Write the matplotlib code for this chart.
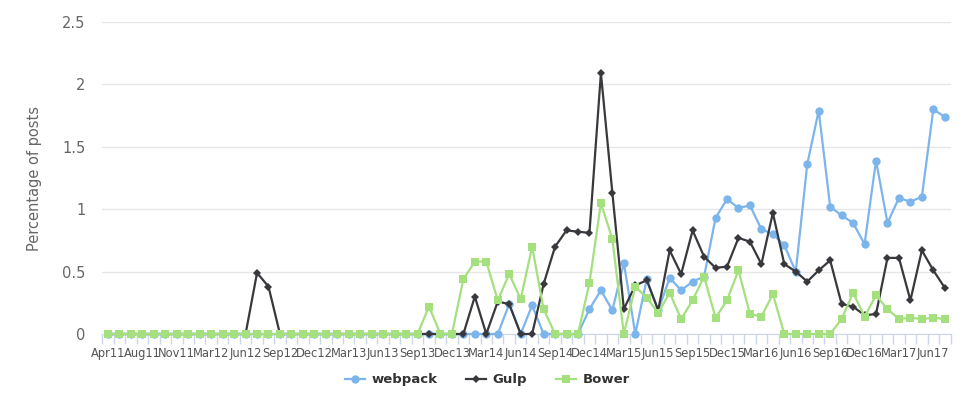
from matplotlib import pyplot as plt
from matplotlib.lines import Line2D
import numpy as np

# tick labels shown every 3rd category
tick_labels = ["Apr11", "Aug11", "Nov11", "Mar12", "Jun12", "Sep12", "Dec12", "Mar13", "Jun13",
               "Sep13", "Dec13", "Mar14", "Jun14", "Sep14", "Dec14", "Mar15", "Jun15", "Sep15",
               "Dec15", "Mar16", "Jun16", "Sep16", "Dec16", "Mar17", "Jun17"]

webpack = [0, 0, 0, 0, 0, 0, 0, 0, 0, 0,
           0, 0, 0, 0, 0, 0, 0, 0, 0, 0,
           0, 0, 0, 0, 0, 0, 0, 0, 0, 0,
           0, 0, 0, 0, 0, 0.24, 0, 0.23, 0, 0,
           0, 0, 0.20, 0.35, 0.19, 0.57, 0, 0.44, 0.19, 0.45,
           0.35, 0.42, 0.46, 0.93, 1.08, 1.01, 1.03, 0.84, 0.80, 0.71,
           0.50, 1.36, 1.79, 1.02, 0.95, 0.89, 0.72, 1.39, 0.89, 1.09,
           1.06, 1.10, 1.80, 1.74]

gulp = [0, 0, 0, 0, 0, 0, 0, 0, 0, 0,
        0, 0, 0, 0.49, 0.38, 0, 0, 0, 0, 0,
        0, 0, 0, 0, 0, 0, 0, 0, 0, 0,
        0, 0, 0.30, 0, 0.26, 0.24, 0, 0, 0.40, 0.70,
        0.83, 0.82, 0.81, 2.09, 1.13, 0.20, 0.39, 0.43, 0.19, 0.67,
        0.48, 0.83, 0.62, 0.53, 0.54, 0.77, 0.74, 0.56, 0.97, 0.56,
        0.50, 0.42, 0.51, 0.59, 0.24, 0.22, 0.15, 0.16, 0.61, 0.61,
        0.27, 0.67, 0.51, 0.37]

bower = [0, 0, 0, 0, 0, 0, 0, 0, 0, 0,
         0, 0, 0, 0, 0, 0, 0, 0, 0, 0,
         0, 0, 0, 0, 0, 0, 0, 0, 0.22, 0,
         0, 0.44, 0.58, 0.58, 0.27, 0.48, 0.28, 0.70, 0.20, 0,
         0, 0, 0.41, 1.05, 0.76, 0, 0.38, 0.29, 0.17, 0.33,
         0.12, 0.27, 0.46, 0.13, 0.27, 0.51, 0.16, 0.14, 0.32, 0,
         0, 0, 0, 0, 0.12, 0.33, 0.14, 0.31, 0.20, 0.12,
         0.13, 0.12, 0.13, 0.12]

x = np.arange(len(webpack))

fig = plt.figure(figsize=(9.65, 3.98), dpi=100)
ax = fig.add_axes([0.106, 0.1608, 0.879, 0.7839])

series = [("webpack", webpack, "#7cb5ec", "o", 6),
          ("Gulp", gulp, "#38383d", "D", 4.4),
          ("Bower", bower, "#a5e07e", "s", 6)]

handles = []
for name, vals, col, mk, ms in series:
    ax.plot(x, vals, color=col, lw=1.6, marker=mk, markersize=ms,
            markeredgewidth=0, clip_on=False, zorder=3)
    handles.append(Line2D([], [], color=col, lw=1.6, marker=mk, markersize=ms,
                          markeredgewidth=0, label=name))

ax.set_xlim(-0.5, len(webpack) - 0.5)
ax.set_ylim(0, 2.5)

ax.set_yticks([0, 0.5, 1, 1.5, 2, 2.5])
ax.set_yticklabels(["0", "0.5", "1", "1.5", "2", "2.5"])
ax.tick_params(axis="y", length=0, pad=12, labelsize=10.5, labelcolor="#666666")
ax.grid(axis="y", color="#e6e6e6", lw=1)
ax.set_axisbelow(True)

# ticks on category boundaries, labels on every 3rd category
ax.set_xticks(np.arange(len(webpack) + 1) - 0.5)
ax.set_xticklabels([])
ax.tick_params(axis="x", which="major", length=7, color="#ccd6eb", width=1)
ax.set_xticks(np.arange(0, len(webpack), 3), minor=True)
ax.set_xticklabels(tick_labels, minor=True)
ax.tick_params(axis="x", which="minor", length=0, pad=9, labelsize=8.3, labelcolor="#555555")

for s in ["left", "top", "right"]:
    ax.spines[s].set_visible(False)
ax.spines["bottom"].set_color("#ccd6eb")

ax.set_ylabel("Percentage of posts", fontsize=10.5, color="#666666")
ax.yaxis.set_label_coords(-0.071, 0.5)

fig.legend(handles=handles, loc="lower center", bbox_to_anchor=(0.505, 0.0), ncol=3,
           frameon=False, handlelength=1.5, columnspacing=2.2, handletextpad=0.5,
           prop={"weight": "bold", "size": 9.5}, labelcolor="#333333")

plt.savefig("out.png", dpi=100)
